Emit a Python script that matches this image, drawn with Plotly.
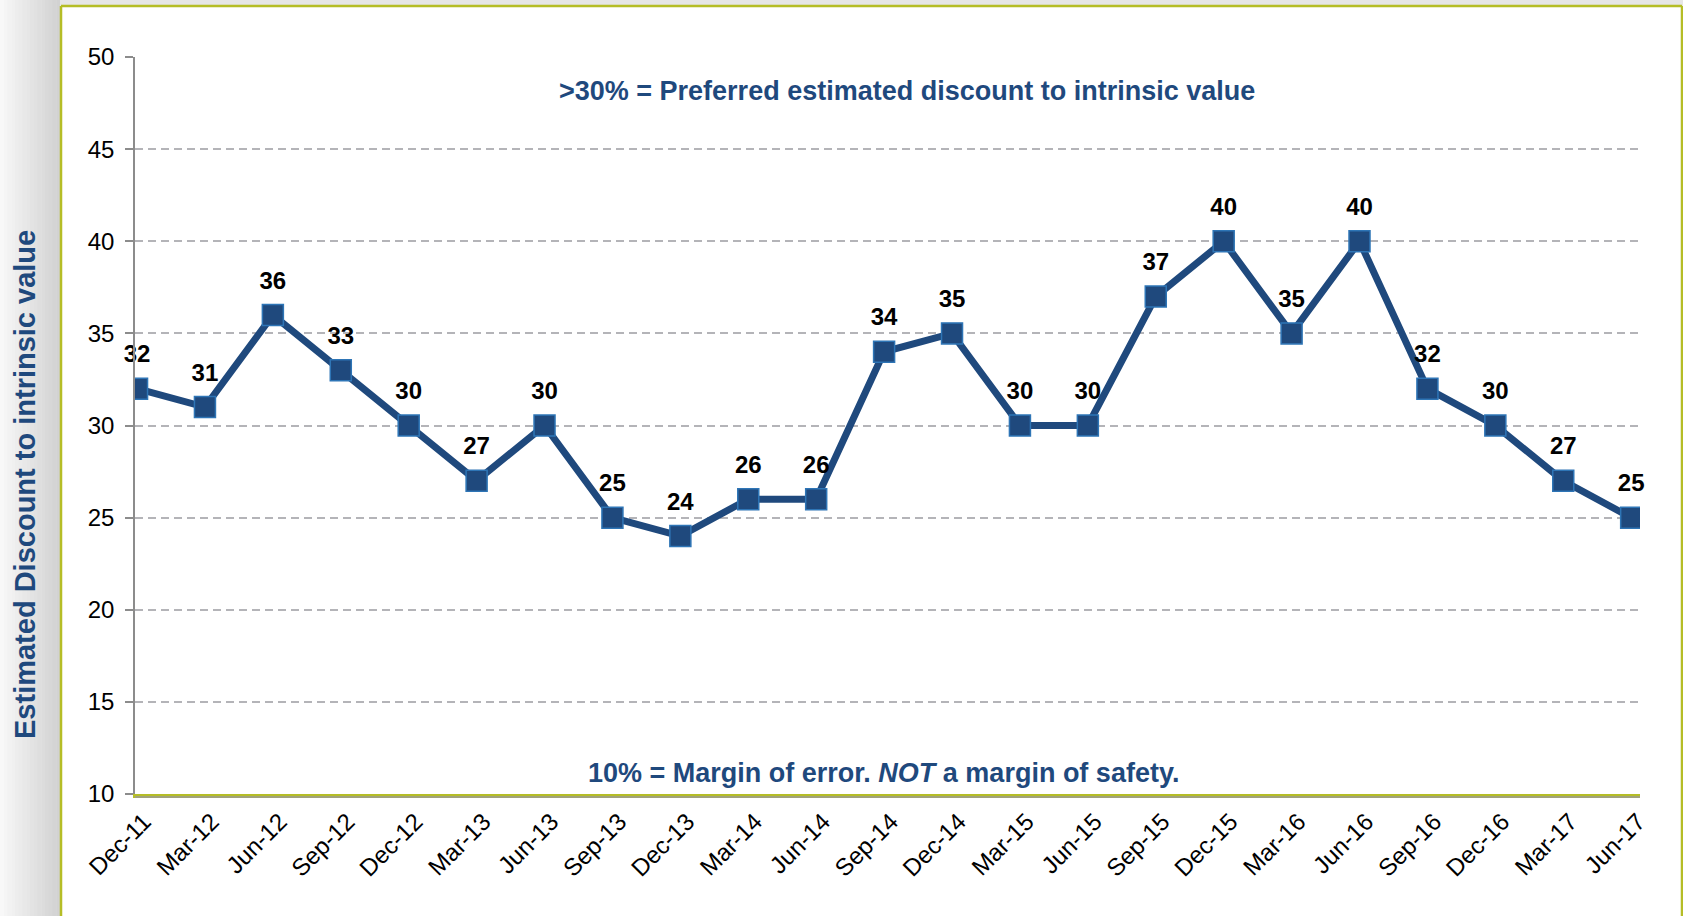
import plotly.graph_objects as go

# ---- data ----
quarters = ["Dec-11", "Mar-12", "Jun-12", "Sep-12", "Dec-12", "Mar-13", "Jun-13",
            "Sep-13", "Dec-13", "Mar-14", "Jun-14", "Sep-14", "Dec-14", "Mar-15",
            "Jun-15", "Sep-15", "Dec-15", "Mar-16", "Jun-16", "Sep-16", "Dec-16",
            "Mar-17", "Jun-17"]
discount = [32, 31, 36, 33, 30, 27, 30, 25, 24, 26, 26, 34, 35, 30, 30, 37, 40,
            35, 40, 32, 30, 27, 25]
y_ticks = [10, 15, 20, 25, 30, 35, 40, 45, 50]

top_note = ">30% = Preferred estimated discount to intrinsic value"
bottom_note = "10% = Margin of error. <i>NOT</i> a margin of safety."
y_title = "Estimated Discount to intrinsic value"

# ---- layout geometry (pixels) ----
W, H = 1683, 916
L, R, T, B = 135, 1640, 57, 794
NAVY = "#1F497D"
OLIVE = "#B5BD26"
FONT = "Liberation Sans, Arial, sans-serif"


def px_x(p):
    return (p - L) / (R - L)


def px_y(p):
    return (B - p) / (B - T)


fig = go.Figure()
fig.add_trace(go.Scatter(
    x=quarters, y=discount,
    mode="lines+markers",
    line=dict(color=NAVY, width=7),
    marker=dict(symbol="square", size=21, color=NAVY,
                line=dict(color="#2E75B6", width=1.5)),
    showlegend=False, hoverinfo="x+y",
))
# data labels (invisible larger marker used only to lift the labels)
fig.add_trace(go.Scatter(
    x=quarters, y=discount,
    mode="markers+text",
    marker=dict(symbol="square", size=31, color="rgba(0,0,0,0)", opacity=0),
    text=[str(v) for v in discount],
    textposition="top center",
    textfont=dict(family=FONT, size=24, color="#000000", weight="bold"),
    cliponaxis=False,
    showlegend=False, hoverinfo="skip",
))

shapes = []
# gray gradient strip on the left
n = 16
for i in range(n):
    x0 = i * 60 / n
    x1 = (i + 1) * 60 / n
    g = int(248 - (i / (n - 1)) * 38)
    shapes.append(dict(type="rect", xref="paper", yref="paper",
                       x0=px_x(x0), x1=px_x(x1 + 0.5), y0=px_y(H), y1=px_y(0),
                       fillcolor=f"rgb({g},{g},{g})", line=dict(width=0),
                       layer="below"))
# top gray strip
shapes.append(dict(type="rect", xref="paper", yref="paper",
                   x0=px_x(60), x1=px_x(W), y0=px_y(6), y1=px_y(0),
                   fillcolor="#E6E6E6", line=dict(width=0), layer="below"))
# olive frame
shapes.append(dict(type="line", xref="paper", yref="paper",
                   x0=px_x(61), x1=px_x(1682), y0=px_y(6), y1=px_y(6),
                   line=dict(color=OLIVE, width=2.5), layer="below"))
shapes.append(dict(type="line", xref="paper", yref="paper",
                   x0=px_x(61), x1=px_x(61), y0=px_y(6), y1=px_y(H + 5),
                   line=dict(color=OLIVE, width=2.5), layer="below"))
shapes.append(dict(type="line", xref="paper", yref="paper",
                   x0=px_x(1682), x1=px_x(1682), y0=px_y(6), y1=px_y(H + 5),
                   line=dict(color=OLIVE, width=2.5), layer="below"))
# thin gray line under the olive x-axis line
shapes.append(dict(type="line", xref="paper", yref="paper",
                   x0=0, x1=1, y0=px_y(B + 3), y1=px_y(B + 3),
                   line=dict(color="#9A9A9A", width=1.5), layer="above"))

annotations = [
    dict(text=f"<b>{top_note}</b>", xref="paper", yref="paper",
         x=px_x(907), y=px_y(91), showarrow=False, xanchor="center", yanchor="middle",
         font=dict(family=FONT, size=27, color=NAVY)),
    dict(text=f"<b>{bottom_note}</b>", xref="paper", yref="paper",
         x=px_x(883), y=px_y(773), showarrow=False, xanchor="center", yanchor="middle",
         font=dict(family=FONT, size=27, color=NAVY)),
    dict(text=f"<b>{y_title}</b>", xref="paper", yref="paper",
         x=px_x(25), y=px_y(485), showarrow=False, textangle=-90,
         xanchor="center", yanchor="middle",
         font=dict(family=FONT, size=29, color=NAVY)),
]

fig.update_layout(
    width=W, height=H,
    margin=dict(l=L, r=W - R, t=T, b=H - B, pad=0),
    paper_bgcolor="white", plot_bgcolor="white",
    shapes=shapes, annotations=annotations,
    xaxis=dict(type="category", categoryorder="array", categoryarray=quarters,
               range=[-0.03, 22.13], showgrid=False, zeroline=False,
               showline=True, linecolor=OLIVE, linewidth=4,
               ticks="", tickangle=-45, automargin=False,
               ticklabelshift=7,
               tickfont=dict(family=FONT, size=24, color="#000000")),
    yaxis=dict(range=[10, 50], tickvals=y_ticks, showgrid=True,
               gridcolor="#B4B4B8", griddash="8px,5px", gridwidth=1.5,
               zeroline=False, showline=True, linecolor="#8C8C8C", linewidth=1.5,
               ticks="outside", ticklen=8, tickcolor="#8C8C8C", tickwidth=1.5,
               ticklabelstandoff=6, automargin=False,
               tickfont=dict(family=FONT, size=24, color="#000000")),
)

fig.write_html("out.html", config={"displayModeBar": False},
               post_script="document.body.style.margin='0';document.body.style.overflow='hidden';")
